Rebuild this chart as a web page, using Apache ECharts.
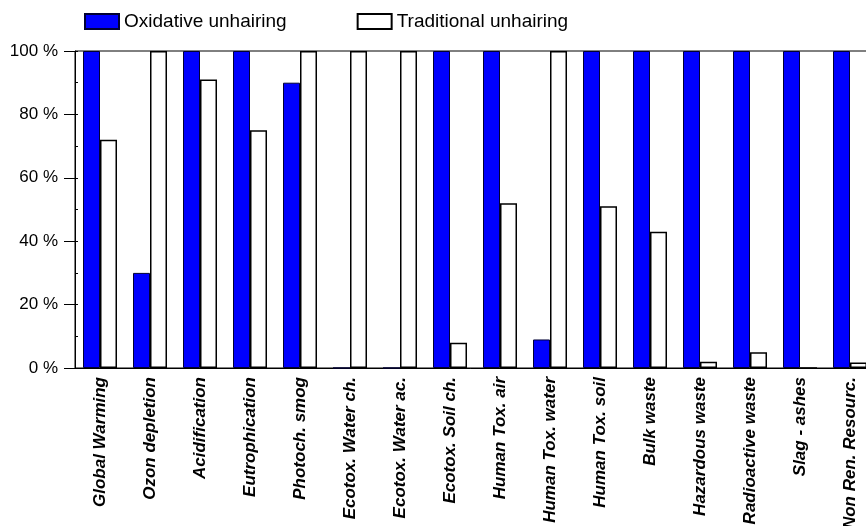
<!DOCTYPE html>
<html>
<head>
<meta charset="utf-8">
<script src="https://cdn.jsdelivr.net/npm/echarts@6/dist/echarts.min.js"></script>
<style>
  html, body { margin: 0; padding: 0; background: #fff; }
  #chart { width: 866px; height: 526px; }
</style>
</head>
<body>
<div id="chart"></div>
<script>
// impact categories
var categories = ['Global Warming', 'Ozon depletion', 'Acidification', 'Eutrophication', 'Photoch. smog',
    'Ecotox. Water ch.', 'Ecotox. Water ac.', 'Ecotox. Soil ch.', 'Human Tox. air', 'Human Tox. water',
    'Human Tox. soil', 'Bulk waste', 'Hazardous waste', 'Radioactive waste', 'Slag - ashes', 'Non Ren. Resourc.'];
// relative values, %
var oxidative = [100, 30, 100, 100, 90, 0, 0, 100, 100, 9, 100, 100, 100, 100, 100, 100];
var traditional = [72, 100, 91, 75, 100, 100, 100, 8, 52, 100, 51, 43, 2, 5, 0, 1.7];
var yTicks = [0, 20, 40, 60, 80, 100];

var fontName = '"Liberation Sans", Arial, sans-serif';

var chart = echarts.init(document.getElementById('chart'));
chart.setOption({
    animation: false,
    legend: {
        left: 79,
        top: 7,
        icon: 'rect',
        itemWidth: 34,
        itemHeight: 15,
        itemGap: 70,
        textStyle: { fontFamily: fontName, fontSize: 19, color: '#000' },
        data: ['Oxidative unhairing', 'Traditional unhairing']
    },
    grid: {
        left: 75,
        top: 51,
        width: 800,
        height: 317,
        outerBoundsMode: 'none',
        containLabel: false,
        show: true,
        borderColor: '#000',
        borderWidth: 1,
        backgroundColor: 'transparent'
    },
    xAxis: {
        type: 'category',
        data: categories,
        axisLine: { lineStyle: { color: '#000', width: 1 } },
        axisTick: { show: false },
        axisLabel: {
            rotate: 90,
            interval: 0,
            margin: 9,
            color: '#000',
            fontFamily: fontName,
            fontSize: 17,
            fontWeight: 'bold',
            fontStyle: 'italic'
        }
    },
    yAxis: [
        {
            type: 'value',
            min: yTicks[0],
            max: yTicks[yTicks.length - 1],
            interval: 20,
            axisLine: { show: true, lineStyle: { color: '#000', width: 1 } },
            axisTick: { show: true, length: 11, lineStyle: { color: '#000' } },
            splitLine: { show: false },
            axisLabel: {
                margin: 17,
                color: '#000',
                fontFamily: fontName,
                fontSize: 17,
                formatter: '{value} %'
            }
        },
        {
            // small inner ticks every 10 %
            type: 'value',
            position: 'left',
            min: 0,
            max: 100,
            interval: 10,
            axisLine: { show: false },
            axisTick: { show: true, inside: true, length: 3, lineStyle: { color: '#000' } },
            axisLabel: { show: false },
            splitLine: { show: false }
        }
    ],
    series: [
        {
            name: 'Oxidative unhairing',
            type: 'bar',
            barWidth: 17,
            barGap: '0%',
            itemStyle: { color: '#0000ff', borderColor: '#000033', borderWidth: 1 },
            data: oxidative
        },
        {
            name: 'Traditional unhairing',
            type: 'bar',
            barWidth: 17,
            barGap: '0%',
            itemStyle: { color: '#ffffff', borderColor: '#000', borderWidth: 1.5 },
            data: traditional
        }
    ]
});
</script>
</body>
</html>
